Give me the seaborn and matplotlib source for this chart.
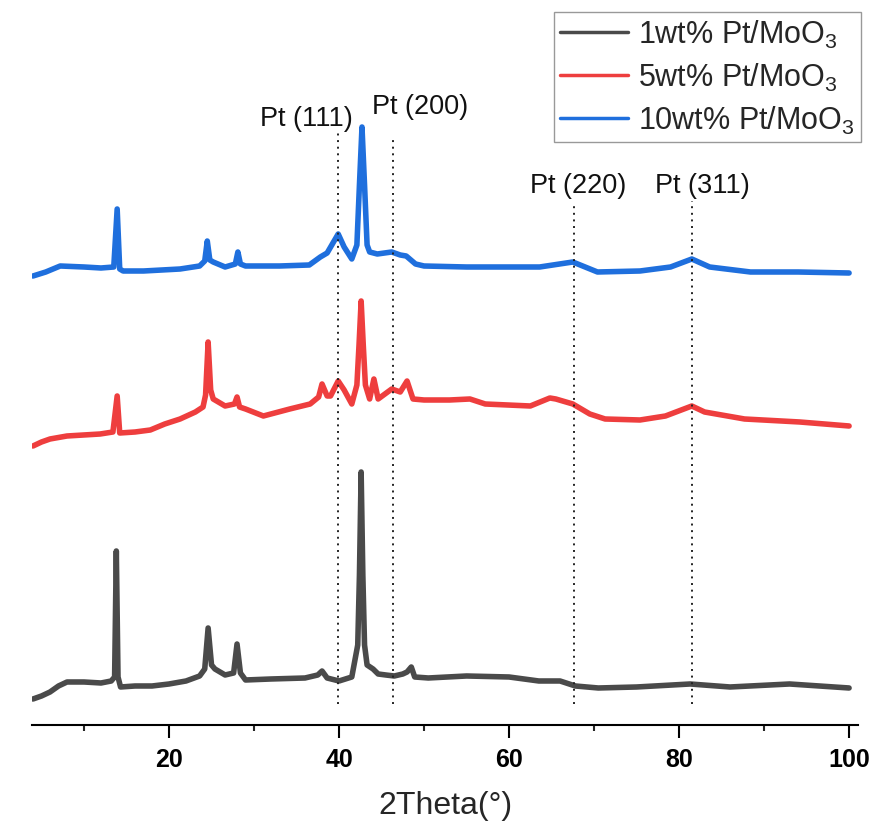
import matplotlib
matplotlib.use("Agg")
import matplotlib.pyplot as plt
from matplotlib.ticker import MultipleLocator
import pandas as pd
import seaborn as sns

# XRD patterns (intensity in a.u., curves already stacked)
tt_1wt = [4.0, 5.0, 6.0, 7.0, 8.0, 10.0, 12.0, 13.2, 13.6, 13.8, 14.0, 14.3, 16.0, 18.0, 20.0,
          22.0, 23.6, 24.2, 24.6, 25.0, 25.4, 26.6, 27.6, 28.0, 28.4, 29.0, 32.0, 36.0, 37.5,
          38.0, 38.6, 40.0, 41.5, 42.2, 42.4, 42.6, 42.8, 43.0, 43.3, 44.0, 44.6, 45.5, 46.5,
          47.5, 48.0, 48.5, 48.9, 50.5, 55.0, 60.0, 63.5, 66.0, 67.8, 70.5, 75.0, 81.3, 86.0,
          93.0, 100.0]
int_1wt = [26, 29, 33, 39, 43, 43, 42, 44, 48, 174, 48, 38, 39, 39, 41,
           44, 49, 56, 97, 60, 56, 50, 52, 81, 52, 45, 46, 47, 50,
           54, 47, 44, 48, 80, 150, 253, 150, 80, 60, 56, 51, 50, 49,
           51, 53, 58, 48, 47, 49, 48, 44, 44, 39, 37, 38, 41, 38,
           41, 37]

tt_5wt = [4.0, 5.0, 6.0, 8.0, 11.9, 13.4, 13.9, 14.2, 16.0, 17.8, 19.5, 21.3, 23.1, 24.0, 24.3,
          24.6, 24.9, 25.2, 26.6, 27.7, 28.0, 28.3, 29.0, 31.1, 34.2, 36.6, 37.6, 38.0, 38.6,
          39.0, 39.9, 40.6, 41.5, 42.1, 42.35, 42.6, 42.85, 43.1, 43.6, 44.1, 44.6, 46.2, 47.2,
          48.0, 48.7, 50.0, 53.0, 55.4, 57.2, 62.5, 64.8, 65.5, 67.5, 69.5, 71.3, 75.4, 78.4,
          81.5, 83.0, 87.7, 94.2, 100.0]
int_5wt = [279, 283, 286, 289, 291, 293, 329, 292, 293, 295, 301, 306, 313, 318, 330,
           383, 335, 326, 319, 321, 328, 318, 316, 309, 316, 321, 328, 341, 329,
           329, 344, 335, 321, 340, 380, 424, 380, 340, 326, 346, 326, 336, 333,
           344, 326, 325, 325, 326, 321, 319, 327, 326, 321, 311, 306, 305, 309,
           319, 313, 306, 303, 299]

tt_10wt = [4.0, 5.5, 7.2, 10.0, 12.0, 13.5, 13.9, 14.2, 14.6, 17.0, 21.3, 23.6, 24.2, 24.5,
           24.8, 25.2, 26.6, 27.8, 28.1, 28.4, 29.0, 33.0, 36.5, 37.8, 38.6, 39.9, 40.6, 41.5,
           42.1, 42.4, 42.7, 43.0, 43.3, 43.6, 44.5, 46.2, 47.2, 47.9, 49.0, 50.0, 55.0, 60.0,
           63.6, 67.5, 70.4, 75.4, 79.0, 81.5, 83.6, 88.4, 94.0, 100.0]
int_10wt = [449, 453, 459, 458, 457, 458, 516, 456, 454, 454, 456, 459, 464, 484,
            465, 463, 458, 461, 473, 461, 459, 459, 460, 468, 472, 491, 478, 466,
            480, 540, 598, 540, 480, 473, 471, 473, 470, 469, 461, 459, 458, 458,
            458, 463, 453, 454, 458, 466, 458, 453, 453, 452]

samples = ["1wt% Pt/MoO$_3$", "5wt% Pt/MoO$_3$", "10wt% Pt/MoO$_3$"]
colors = ["#4a4a4a", "#ee3e3e", "#1f6fdd"]

# Pt reflections: position, label, top of the guide line
pt_pos = [39.9, 46.3, 67.6, 81.5]
pt_labels = ["Pt (111)", "Pt (200)", "Pt (220)", "Pt (311)"]
pt_line_top = [593, 589, 519, 524]
pt_label_x = [36.1, 49.5, 68.1, 82.7]
pt_label_y = [600, 612, 533, 533]

df = pd.concat([
    pd.DataFrame({"two_theta": tt_1wt, "intensity": int_1wt, "sample": samples[0]}),
    pd.DataFrame({"two_theta": tt_5wt, "intensity": int_5wt, "sample": samples[1]}),
    pd.DataFrame({"two_theta": tt_10wt, "intensity": int_10wt, "sample": samples[2]}),
])

sns.set_theme(style="white")
plt.rcParams["font.family"] = ["Liberation Sans", "DejaVu Sans"]
plt.rcParams["mathtext.default"] = "regular"

fig = plt.figure(figsize=(8.96, 8.28), dpi=100)
ax = fig.add_axes([0.0357, 0.1232, 0.922, 0.8768])

sns.lineplot(data=df, x="two_theta", y="intensity", hue="sample", hue_order=samples,
             palette=colors, linewidth=4, estimator=None, sort=False, ax=ax)

for p, top, lab, lx, ly in zip(pt_pos, pt_line_top, pt_labels, pt_label_x, pt_label_y):
    ax.vlines(p, 21, top, colors="#222222", linestyles=(0, (1, 2.4)), linewidth=1.4)
    ax.text(lx, ly, lab, ha="center", va="baseline", fontsize=19.5, color="#111111")

ax.set_xlim(3.88, 101.06)
ax.set_ylim(0, 726)
ax.set_yticks([])
ax.set_ylabel("")
for s in ["left", "top", "right"]:
    ax.spines[s].set_visible(False)
ax.spines["bottom"].set_linewidth(1.5)
ax.spines["bottom"].set_color("black")

ax.xaxis.set_major_locator(MultipleLocator(20))
ax.xaxis.set_minor_locator(MultipleLocator(10))
ax.tick_params(axis="x", which="major", direction="out", length=9.5, width=1.5,
               bottom=True, pad=6, labelsize=18, colors="black")
ax.tick_params(axis="x", which="minor", direction="out", length=4.5, width=1.5, bottom=True)
for t in ax.get_xticklabels():
    t.set_fontweight("bold")
ax.set_xlabel("2Theta(°)", fontsize=23, labelpad=14)

leg = ax.legend(loc="upper right", bbox_to_anchor=(861 / 896, 1 - 13 / 828),
                bbox_transform=fig.transFigure, borderaxespad=0, fontsize=22,
                frameon=True, fancybox=False, edgecolor="#808080", handlelength=2.2,
                handletextpad=0.35, labelspacing=0.35, borderpad=0.2)
leg.get_frame().set_linewidth(1.0)
for line in leg.get_lines():
    line.set_linewidth(2.5)

fig.savefig("out.png", dpi=100)
